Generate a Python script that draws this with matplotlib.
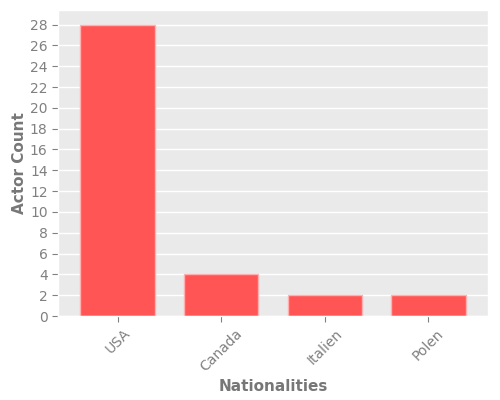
import matplotlib

matplotlib.use("Agg")
import matplotlib.pyplot as plt  # noqa: E402

nationalities = ["USA", "Canada", "Italien", "Polen"]
actor_counts = [28, 4, 2, 2]

plt.style.use("ggplot")

fig = plt.figure(figsize=(5, 4), dpi=100)
ax = fig.add_axes((0.116, 0.21, 0.86, 0.765))
ax.set_facecolor("#eaeaea")
x = range(len(nationalities))
ax.bar(list(x), actor_counts, width=0.72, color="#ff5555", edgecolor="#ffb0b0",
       linewidth=1.0)
ax.set_xticks(list(x))
ax.set_xticklabels(nationalities, rotation=45, fontsize=10, color="#808080")
ax.set_yticks(range(0, 29, 2))
ax.tick_params(axis="both", labelsize=10, colors="#808080", length=4)
ax.set_xlim(-0.575, 3.575)
ax.set_ylim(0, 29.4)
ax.grid(axis="x", visible=False)
ax.grid(axis="y", color="white", linewidth=1.0)
ax.set_xlabel("Nationalities", fontsize=11, fontweight="bold", color="#777777")
ax.set_ylabel("Actor Count", fontsize=11, fontweight="bold", color="#777777")
ax.xaxis.set_label_coords(0.5, -0.205)
ax.yaxis.set_label_coords(-0.072, 0.5)
fig.savefig("out.png", dpi=100)
